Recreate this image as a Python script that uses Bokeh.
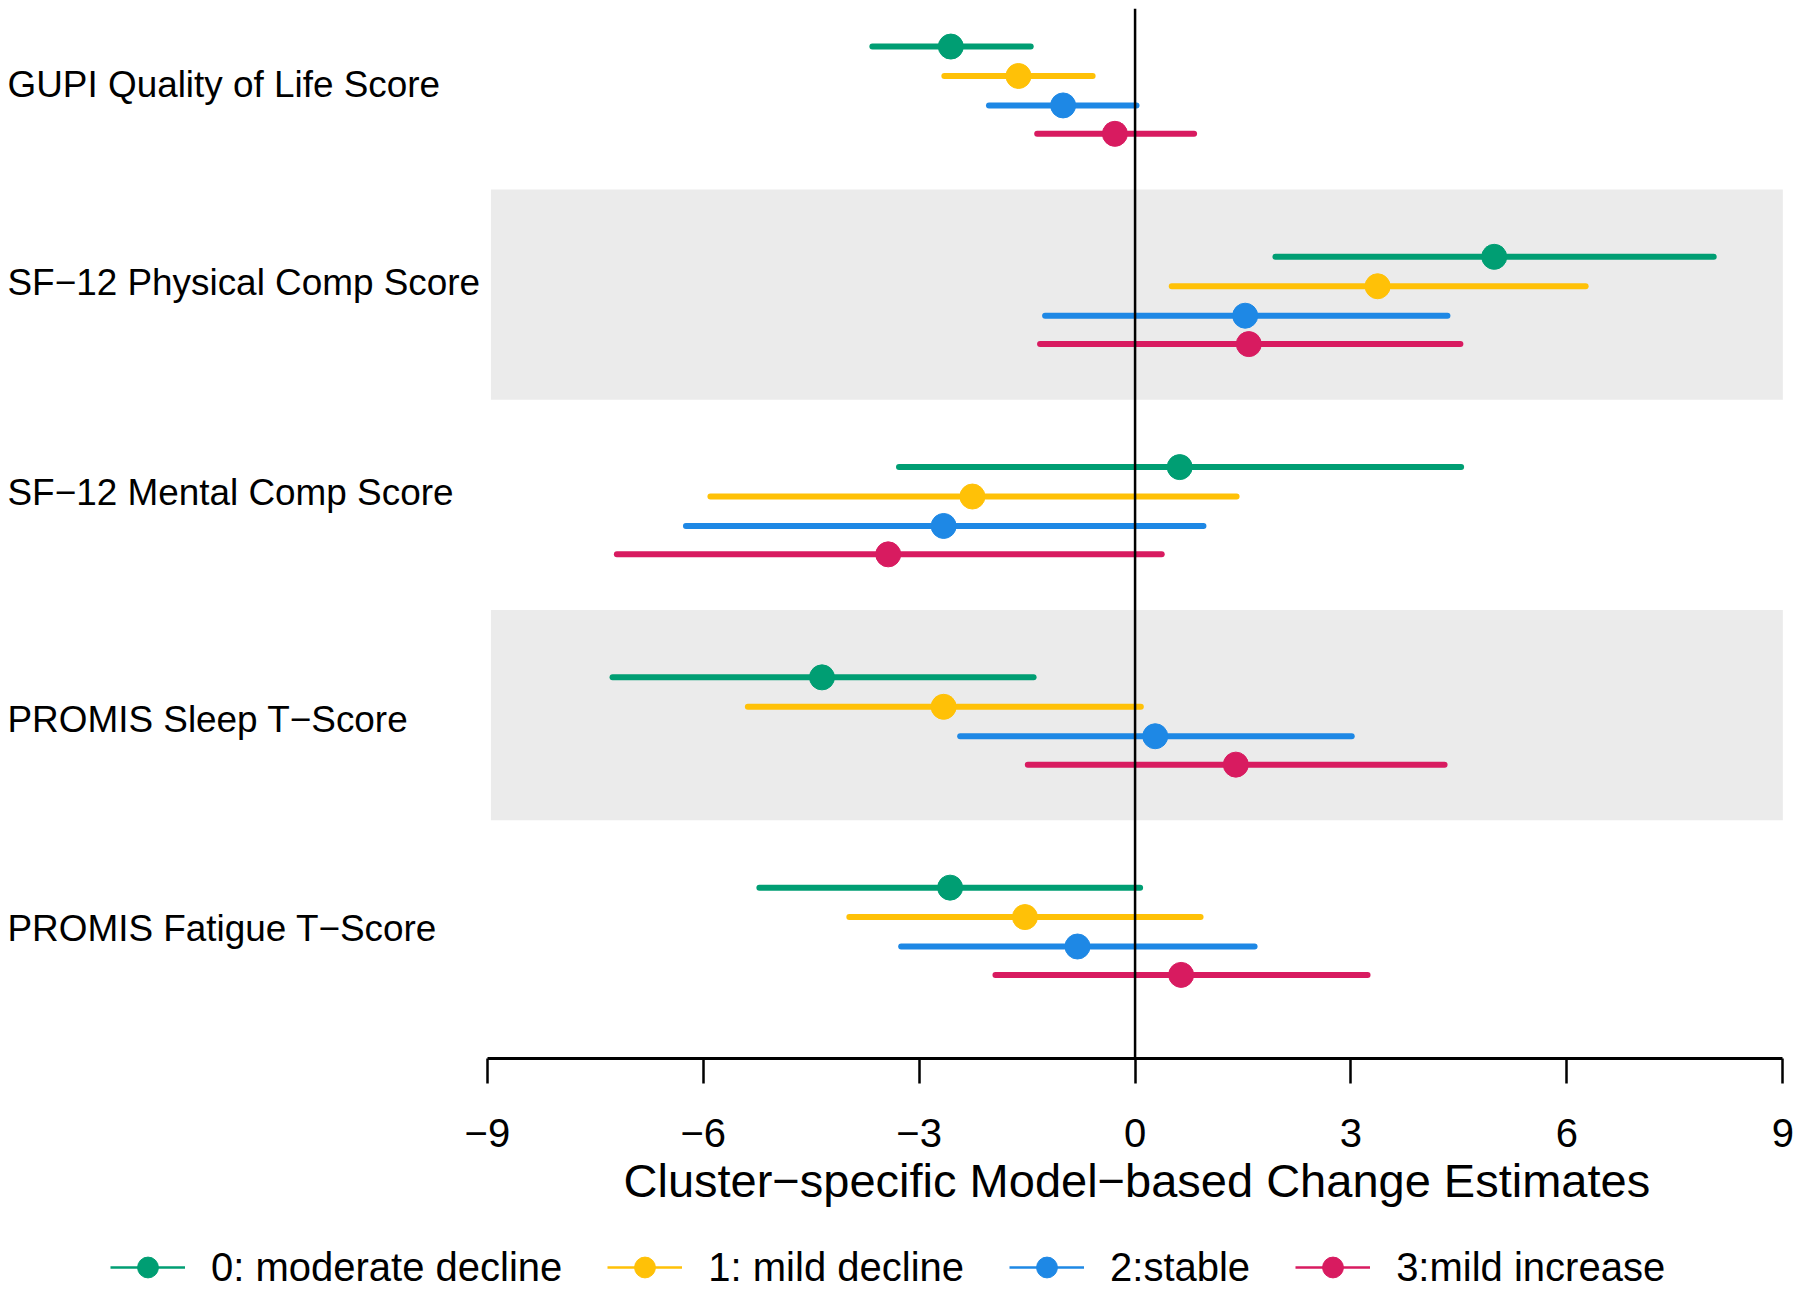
from bokeh.plotting import figure
from bokeh.layouts import column
from bokeh.models import FixedTicker, Span, Label, Legend, LegendItem, Title, Range1d
from bokeh.embed import file_html
from bokeh.resources import INLINE

# ---------------- data ----------------
categories = ["GUPI Quality of Life Score", "SF\u221212 Physical Comp Score",
              "SF\u221212 Mental Comp Score", "PROMIS Sleep T\u2212Score",
              "PROMIS Fatigue T\u2212Score"]
clusters = ["0: moderate decline", "1: mild decline", "2:stable", "3:mild increase"]

est_c0 = [-2.56, 4.99, 0.62, -4.35, -2.57]
lo_c0 = [-3.65, 1.95, -3.28, -7.26, -5.22]
hi_c0 = [-1.45, 8.04, 4.53, -1.41, 0.07]

est_c1 = [-1.62, 3.37, -2.26, -2.66, -1.53]
lo_c1 = [-2.65, 0.51, -5.90, -5.38, -3.97]
hi_c1 = [-0.59, 6.26, 1.41, 0.08, 0.91]

est_c2 = [-1.00, 1.53, -2.66, 0.28, -0.80]
lo_c2 = [-2.03, -1.25, -6.24, -2.43, -3.25]
hi_c2 = [0.02, 4.34, 0.95, 3.01, 1.66]

est_c3 = [-0.28, 1.58, -3.43, 1.40, 0.64]
lo_c3 = [-1.36, -1.32, -7.20, -1.49, -1.94]
hi_c3 = [0.82, 4.52, 0.37, 4.30, 3.23]

xticks = [-9, -6, -3, 0, 3, 6, 9]
xtick_labels = ["\u22129", "\u22126", "\u22123", "0", "3", "6", "9"]
x_title = "Cluster\u2212specific Model\u2212based Change Estimates"

# ---------------- styles / layout ----------------
colors = ["#009E73", "#FFC107", "#1E88E5", "#D81B60"]
FONT = "Liberation Sans"
group_pos = [4, 3, 2, 1, 0]
cluster_offsets = [0.18, 0.04, -0.10, -0.235]
label_offsets = [0.0, 0.06, 0.06, -0.02, -0.015]
shaded_groups = [1, 3]

est = [est_c0, est_c1, est_c2, est_c3]
lo = [lo_c0, lo_c1, lo_c2, lo_c3]
hi = [hi_c0, hi_c1, hi_c2, hi_c3]

W = 1796
H_MAIN = 1228
H_LEG = 60
NAN = float("nan")

p = figure(width=W, height=H_MAIN, x_range=(-15.764, 9.19), y_range=(-0.6326, 4.361),
           output_backend="svg", toolbar_location=None, y_axis_location=None,
           min_border_left=0, min_border_right=0, min_border_top=8, min_border_bottom=170)
p.outline_line_color = None
p.grid.grid_line_color = None
p.background_fill_color = "white"

# shaded bands
p.quad(left=-8.95, right=9.0,
       bottom=[group_pos[i] - 0.5 for i in shaded_groups],
       top=[group_pos[i] + 0.5 for i in shaded_groups],
       fill_color="#EBEBEB", line_color=None)

# error bars + points
for k in range(4):
    ys = [g + cluster_offsets[k] for g in group_pos]
    p.segment(x0=lo[k], x1=hi[k], y0=ys, y1=ys, line_color=colors[k],
              line_width=6, line_cap="round")
    p.scatter(x=est[k], y=ys, size=25, fill_color=colors[k], line_color=colors[k])

# zero line
p.add_layout(Span(location=0, dimension="height", line_color="black", line_width=2.5))

# category labels
for cat, g, off in zip(categories, group_pos, label_offsets):
    p.add_layout(Label(x=7, x_units="screen", y=g + off, text=cat, text_align="left",
                       text_baseline="middle", text_font=FONT, text_font_size="36.9px",
                       text_color="black"))

# x axis
ax = p.xaxis[0]
ax.ticker = FixedTicker(ticks=xticks)
ax.bounds = (-9, 9)
ax.major_label_overrides = {t: l for t, l in zip(xticks, xtick_labels)}
ax.axis_line_width = 3
ax.axis_line_color = "black"
ax.major_tick_line_width = 2.5
ax.major_tick_line_color = "black"
ax.major_tick_out = 25
ax.major_tick_in = 0
ax.minor_tick_line_color = None
ax.major_label_text_font = FONT
ax.major_label_text_font_size = "40px"
ax.major_label_text_color = "black"
ax.major_label_standoff = 35

# axis title (centred on the axis span)
p.add_layout(Title(text=x_title, align="left", offset=623, text_font=FONT,
                   text_font_size="47px", text_font_style="normal", text_color="black",
                   standoff=4), "below")

# legend strip
pl = figure(width=W, height=H_LEG, x_range=Range1d(0, 1), y_range=Range1d(0, 1),
            output_backend="svg", toolbar_location=None,
            x_axis_location=None, y_axis_location=None,
            min_border_left=0, min_border_right=0, min_border_top=0, min_border_bottom=0)
pl.outline_line_color = None
pl.grid.grid_line_color = None
items = []
for k in range(4):
    lr = pl.line(x=[NAN], y=[NAN], line_color=colors[k], line_width=2.5)
    sr = pl.scatter(x=[NAN], y=[NAN], size=21, fill_color=colors[k], line_color=colors[k])
    items.append(LegendItem(label=clusters[k], renderers=[lr, sr]))
legend = Legend(items=items, orientation="horizontal", location=(110, -5),
                glyph_width=75, glyph_height=52, label_standoff=26, spacing=45,
                padding=0, margin=0, border_line_color=None, background_fill_alpha=0,
                label_text_font=FONT, label_text_font_size="40px", label_text_color="black")
pl.add_layout(legend, "center")

layout = column(p, pl, spacing=0)
open("out.html", "w").write(file_html(layout, INLINE))
